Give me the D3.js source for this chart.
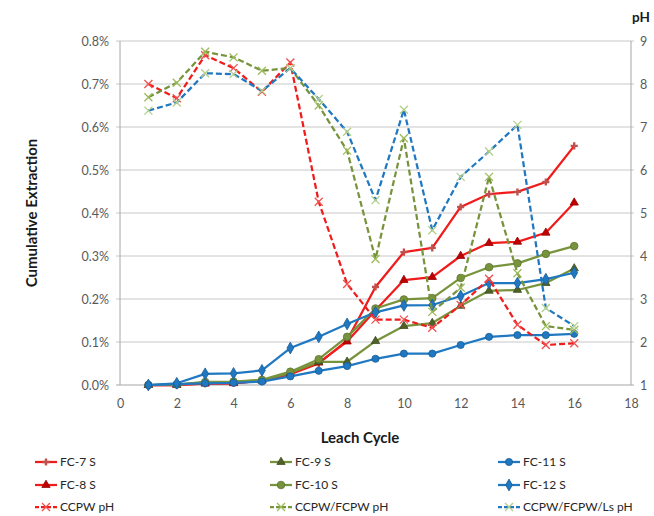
<!DOCTYPE html>
<html><head><meta charset="utf-8">
<script src="https://cdn.jsdelivr.net/npm/d3@7"></script>
<style>
body{margin:0;background:#fff;}
text{font-family:Lato,"Open Sans",sans-serif;}
</style></head>
<body><svg id="c" width="654" height="516"></svg>
<script>
const cycles = [1,2,3,4,5,6,7,8,9,10,11,12,13,14,15,16];
const fc7  = [0,0,0.003,0.004,0.010,0.025,0.050,0.104,0.228,0.309,0.319,0.414,0.444,0.449,0.472,0.556];
const fc8  = [0,0,0.003,0.004,0.010,0.026,0.052,0.101,0.174,0.244,0.251,0.300,0.330,0.333,0.354,0.424];
const fc9  = [0,0.001,0.006,0.007,0.011,0.028,0.054,0.054,0.102,0.137,0.144,0.184,0.219,0.221,0.237,0.271];
const fc10 = [0,0.001,0.007,0.008,0.012,0.031,0.060,0.112,0.178,0.199,0.202,0.249,0.274,0.283,0.305,0.323];
const fc11 = [0,0.002,0.004,0.005,0.008,0.020,0.033,0.044,0.061,0.073,0.073,0.093,0.112,0.116,0.116,0.119];
const fc12 = [0,0.004,0.026,0.027,0.034,0.086,0.112,0.142,0.169,0.185,0.186,0.207,0.237,0.237,0.246,0.261];
const phCCPW     = [8.0,7.67,8.67,8.37,7.82,8.5,5.26,3.35,2.52,2.52,2.33,2.86,3.47,2.40,1.93,1.97];
const phCCPWFCPW = [7.69,8.03,8.75,8.62,8.31,8.37,7.5,6.45,3.93,6.74,2.7,3.26,5.84,3.6,2.37,2.28];
const phCCPWFCPWLs = [7.38,7.57,8.25,8.23,7.84,8.37,7.65,6.89,5.3,7.4,4.6,5.84,6.43,7.05,2.79,2.37];
const xTicks = [0,2,4,6,8,10,12,14,16,18];
const yTicks = [0,0.1,0.2,0.3,0.4,0.5,0.6,0.7,0.8];
const phTicks = [1,2,3,4,5,6,7,8,9];

const RED="#f01b1b", GREEN="#77933c", BLUE="#1f78c1";
const series = [
  {name:"FC-7 S", v:fc7, axis:"L", color:RED, sym:d3.symbolCross, mfill:"#c0504d", dash:null, msize:28},
  {name:"FC-9 S", v:fc9, axis:"L", color:GREEN, sym:d3.symbolTriangle, mfill:"#4f6228", dash:null, msize:30},
  {name:"FC-11 S", v:fc11, axis:"L", color:BLUE, sym:d3.symbolCircle, mfill:"#1f78c1", dash:null, msize:40},
  {name:"FC-8 S", v:fc8, axis:"L", color:RED, sym:d3.symbolTriangle, mfill:"#c00000", dash:null, msize:30},
  {name:"FC-10 S", v:fc10, axis:"L", color:GREEN, sym:d3.symbolCircle, mfill:"#77933c", dash:null, msize:45},
  {name:"FC-12 S", v:fc12, axis:"L", color:BLUE, sym:d3.symbolDiamond, mfill:"#1f78c1", dash:null, msize:40},
  {name:"CCPW pH", v:phCCPW, axis:"R", color:RED, sym:"x", mfill:"#f05050", dash:"6,3", msize:0},
  {name:"CCPW/FCPW pH", v:phCCPWFCPW, axis:"R", color:GREEN, sym:"x", mfill:"#9bbb59", dash:"6,3", msize:0},
  {name:"CCPW/FCPW/Ls pH", v:phCCPWFCPWLs, axis:"R", color:BLUE, sym:"x", mfill:"#b3cf8a", dash:"6,3", msize:0}
];

const svg = d3.select("#c");
const L=120, R=631, T=41, B=385;
const x = d3.scaleLinear().domain([0,18]).range([L,R]);
const y = d3.scaleLinear().domain([0,0.8]).range([B,T]);
const y2 = d3.scaleLinear().domain([1,9]).range([B,T]);

svg.append("g").selectAll("line").data(yTicks).join("line")
  .attr("x1",L-4).attr("x2",R+3).attr("y1",d=>y(d)).attr("y2",d=>y(d))
  .attr("stroke",d=>d===0?"#a6a6a6":"#c8c8c8").attr("stroke-width",1);
svg.append("line").attr("x1",L).attr("x2",L).attr("y1",T).attr("y2",B).attr("stroke","#a6a6a6");
svg.append("line").attr("x1",R).attr("x2",R).attr("y1",T).attr("y2",B).attr("stroke","#a6a6a6");

const gL = svg.append("g").attr("transform",`translate(${L},0)`)
  .call(d3.axisLeft(y).tickValues(yTicks).tickSize(0).tickPadding(11).tickFormat(d=>d3.format(".1f")(d)+"%"));
const gR = svg.append("g").attr("transform",`translate(${R},0)`)
  .call(d3.axisRight(y2).tickValues(phTicks).tickSize(0).tickPadding(9).tickFormat(d3.format("d")));
const gB = svg.append("g").attr("transform",`translate(0,${B})`)
  .call(d3.axisBottom(x).tickValues(xTicks).tickSize(0).tickPadding(14).tickFormat(d3.format("d")));
[gL,gR,gB].forEach(g=>{
  g.select(".domain").remove();
  g.selectAll("text").attr("fill","#595959").style("font-size","12.5px").style("font-family","Lato,'Open Sans',sans-serif");
});

const plot = svg.append("g");
function drawSeries(s){
  const yy = s.axis==="L" ? (v=>y(v)) : (v=>y2(v));
  const pts = cycles.map((c,i)=>[x(c), yy(s.v[i])]);
  plot.append("path").attr("d",d3.line()(pts)).attr("fill","none")
    .attr("stroke",s.color).attr("stroke-width",2.25)
    .attr("stroke-dasharray",s.dash).attr("stroke-linejoin","round");
  pts.forEach(p=>drawMarker(plot,s,p[0],p[1]));
}
function drawMarker(g,s,px,py){
  if(s.sym==="x"){
    const r=4;
    g.append("path").attr("d",`M${px-r},${py-r}L${px+r},${py+r}M${px-r},${py+r}L${px+r},${py-r}`)
      .attr("stroke",s.mfill).attr("stroke-width",1.3).attr("fill","none");
  } else {
    g.append("path").attr("d",d3.symbol().type(s.sym).size(s.msize)())
      .attr("transform",`translate(${px},${py})`)
      .attr("fill",s.mfill).attr("stroke",s.sym===d3.symbolCross?"none":d3.color(s.mfill).darker(0.7)).attr("stroke-width",0.8);
  }
}
[0,3,1,4,2,5].forEach(i=>drawSeries(series[i]));
[6,7,8].forEach(i=>drawSeries(series[i]));

svg.append("text").attr("x",360).attr("y",443).attr("text-anchor","middle")
  .style("font-size","15px").style("font-weight","bold").attr("fill","#1a1a1a").text("Leach Cycle");
svg.append("text").attr("transform","translate(37,213) rotate(-90)").attr("text-anchor","middle")
  .style("font-size","15px").style("font-weight","bold").attr("fill","#1a1a1a").text("Cumulative Extraction");
svg.append("text").attr("x",641).attr("y",22).attr("text-anchor","middle")
  .style("font-size","13.5px").style("font-weight","bold").attr("fill","#1a1a1a").text("pH");

const colX=[35,270,498], rowY=[462,485,507];
series.forEach((s,i)=>{
  const cx=colX[i%3], cy=rowY[Math.floor(i/3)];
  const g=svg.append("g");
  g.append("line").attr("x1",cx).attr("x2",cx+22).attr("y1",cy).attr("y2",cy)
    .attr("stroke",s.color).attr("stroke-width",2.25).attr("stroke-dasharray",s.dash?"4,2":null);
  drawMarker(g,s,cx+11,cy);
  g.append("text").attr("x",cx+25).attr("y",cy+4).style("font-size","12px").attr("fill","#262626").text(s.name);
});
</script></body></html>
